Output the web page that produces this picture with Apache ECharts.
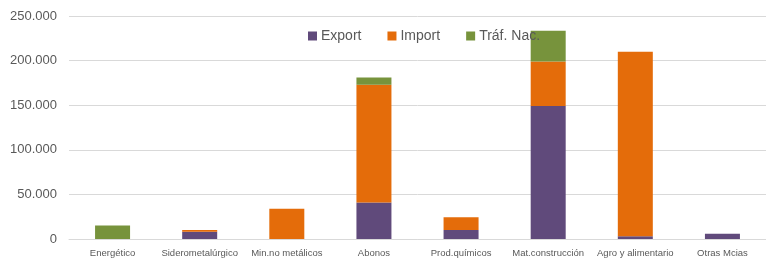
<!DOCTYPE html>
<html>
<head>
<meta charset="utf-8">
<script src="https://cdn.jsdelivr.net/npm/echarts@6/dist/echarts.min.js"></script>
<style>
  html, body { margin: 0; padding: 0; background: #fff; }
  #chart { width: 766px; height: 259px; }
</style>
</head>
<body>
<div id="chart"></div>
<script>
var categories = ['Energético', 'Siderometalúrgico', 'Min.no metálicos', 'Abonos',
                  'Prod.químicos', 'Mat.construcción', 'Agro y alimentario', 'Otras Mcias'];
var exportData = [0, 8000, 0, 41000, 10000, 149000, 3000, 6000];
var importData = [0, 2000, 34000, 132000, 14500, 50000, 207000, 0];
var trafNac    = [15000, 0, 0, 8000, 0, 34500, 0, 0];

var chart = echarts.init(document.getElementById('chart'));

function fmt(v) {
  return String(v).replace(/\B(?=(\d{3})+(?!\d))/g, '.');
}

var font = 'Liberation Sans';

chart.setOption({
  animation: false,
  color: ['#604A7B', '#E46C0A', '#77933C'],
  legend: {
    top: 24,
    left: 303,
    itemWidth: 9,
    itemHeight: 9,
    itemGap: 26,
    icon: 'rect',
    textStyle: { color: '#595959', fontSize: 14, fontFamily: font, padding: [0, 0, 0, -1] },
    data: ['Export', 'Import', 'Tráf. Nac.']
  },
  grid: { left: 69, right: 0, top: 16, bottom: 20 },
  xAxis: {
    type: 'category',
    data: categories,
    axisLine: { lineStyle: { color: '#D9D9D9', width: 1 } },
    axisTick: { show: false },
    axisLabel: { color: '#595959', fontSize: 9.5, fontFamily: font, margin: 9, interval: 0 }
  },
  yAxis: {
    type: 'value',
    min: 0,
    max: 250000,
    interval: 50000,
    axisLine: { show: false },
    axisTick: { show: false },
    splitLine: { lineStyle: { color: '#D9D9D9' } },
    axisLabel: { color: '#595959', fontSize: 13, fontFamily: font, margin: 12, formatter: fmt }
  },
  series: [
    { name: 'Export', type: 'bar', stack: 't', barWidth: 35, data: exportData },
    { name: 'Import', type: 'bar', stack: 't', barWidth: 35, data: importData },
    { name: 'Tráf. Nac.', type: 'bar', stack: 't', barWidth: 35, data: trafNac }
  ]
});
</script>
</body>
</html>
